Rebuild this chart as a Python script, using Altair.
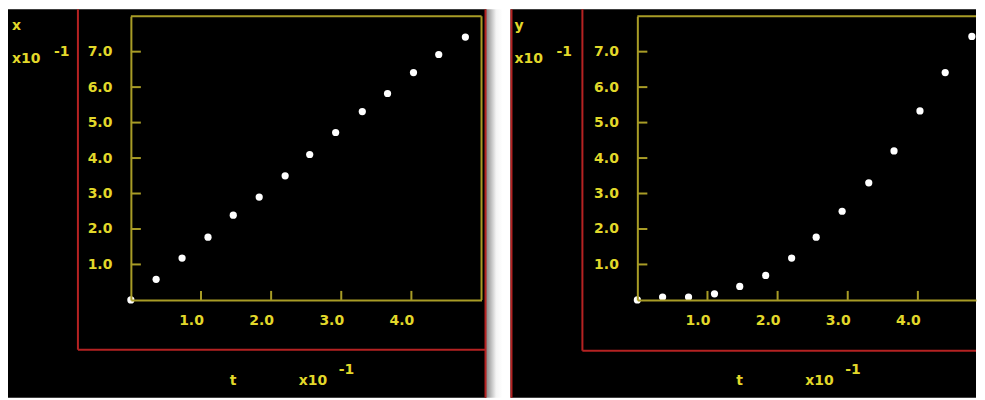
import altair as alt
import pandas as pd

# ---- data ----
t_vals = [0.0, 0.36, 0.73, 1.10, 1.46, 1.83, 2.20, 2.55, 2.92, 3.30, 3.66, 4.03, 4.39, 4.77]
x_vals = [0.0, 0.58, 1.18, 1.77, 2.39, 2.90, 3.50, 4.10, 4.72, 5.31, 5.82, 6.41, 6.92, 7.41]
y_vals = [0.0, 0.08, 0.08, 0.17, 0.38, 0.69, 1.18, 1.77, 2.50, 3.30, 4.20, 5.33, 6.41, 7.43]
x_ticks = [1, 2, 3, 4]
y_ticks = [1, 2, 3, 4, 5, 6, 7]

YEL_LINE = "#a89c26"
YEL_TEXT = "#e2d82a"
RED = "#b52222"
FONT = "DejaVu Sans"
H = 284
ONE = pd.DataFrame({"k": [0]})


def rule(x, x2, y, y2, color, width=2):
    return alt.Chart(ONE).mark_rule(color=color, strokeWidth=width).encode(
        x=alt.value(x), x2=alt.value(x2), y=alt.value(y), y2=alt.value(y2))


def label(txt, x, y, size=14):
    return alt.Chart(ONE).mark_text(
        text=txt, font=FONT, fontSize=size, fontWeight="bold", color=YEL_TEXT,
        align="left", baseline="alphabetic").encode(x=alt.value(x), y=alt.value(y))


def panel(vals, name, W, xmax, rect_x, rect_x2, red_left, red_v, red_h, red_right, right_box, extra):
    xs = alt.Scale(domain=[0, xmax], nice=False, zero=True)
    ys = alt.Scale(domain=[0, 8], nice=False)
    xaxis = alt.Axis(values=x_ticks, format=".1f", title=None, zindex=1,
                     labelPadding=14, labelOffset=-10)
    yaxis = alt.Axis(values=y_ticks, format=".1f", title=None, zindex=1,
                     labelPadding=19)
    df = pd.DataFrame({"t": t_vals, "v": vals})
    bg = alt.Chart(ONE).mark_rect(color="black").encode(
        x=alt.value(rect_x), x2=alt.value(rect_x2), y=alt.value(-7), y2=alt.value(382))
    layers = [bg]
    layers += extra
    if red_left is not None:
        layers.append(rule(red_left, red_left, -7, 382, RED))
    if red_right is not None:
        layers.append(rule(red_right, red_right, -7, 382, RED))
    layers.append(rule(red_v, red_v, -7, red_h, RED))
    layers.append(rule(red_v, rect_x2 if red_right is None else red_right, red_h, red_h, RED))
    # yellow frame (top / right)
    layers.append(rule(0, W, 0, 0, YEL_LINE))
    if right_box:
        layers.append(rule(W, W, 0, H, YEL_LINE))
    # inward ticks
    xt = alt.Chart(pd.DataFrame({"tick": x_ticks})).mark_rule(color=YEL_LINE, strokeWidth=2).encode(
        x=alt.X("tick:Q", scale=xs, axis=xaxis), y=alt.value(H), y2=alt.value(H - 9))
    yt = alt.Chart(pd.DataFrame({"tick": y_ticks})).mark_rule(color=YEL_LINE, strokeWidth=2).encode(
        y=alt.Y("tick:Q", scale=ys, axis=yaxis), x=alt.value(0), x2=alt.value(10))
    pts = alt.Chart(df).mark_circle(color="white", opacity=1, size=52).encode(
        x=alt.X("t:Q", scale=xs, axis=xaxis),
        y=alt.Y("v:Q", scale=ys, axis=yaxis))
    layers += [xt, yt, pts]
    # titles
    layers += [
        label(name, rect_x + 4, 14),
        label("x10", rect_x + 4, 47),
        label("-1", rect_x + 46, 40),
        label("t", 99, 369),
        label("x10", 168, 369),
        label("-1", 208, 358),
    ]
    return alt.layer(*layers).properties(width=W, height=H)


gap = alt.Chart(ONE).mark_rect(
    color=alt.Gradient(gradient="linear",
                       stops=[alt.GradientStop(color="#8c8c8c", offset=0),
                              alt.GradientStop(color="#f4f4f4", offset=0.6),
                              alt.GradientStop(color="#ffffff", offset=1)],
                       x1=0, x2=1, y1=0, y2=0)).encode(
    x=alt.value(356), x2=alt.value(372), y=alt.value(-7), y2=alt.value(382))

RW = 339
left = panel(x_vals, "x", 351, 5.0, -123, 356, None, -53, 334, 355, True, [gap])
right = panel(y_vals, "y", RW, RW / 70.2, -127, RW, -126, -55, 335, None, False, [])

chart = alt.hconcat(left, right, spacing=156, bounds="flush").properties(
    padding=0, background="white"
).configure_view(stroke=None).configure_axis(
    domainColor=YEL_LINE, domainWidth=2, ticks=False, tickSize=0, grid=False,
    labelColor=YEL_TEXT, labelFont=FONT, labelFontSize=14, labelFontWeight="bold"
)

chart.save("out.html", embed_options={"renderer": "svg", "actions": False})
